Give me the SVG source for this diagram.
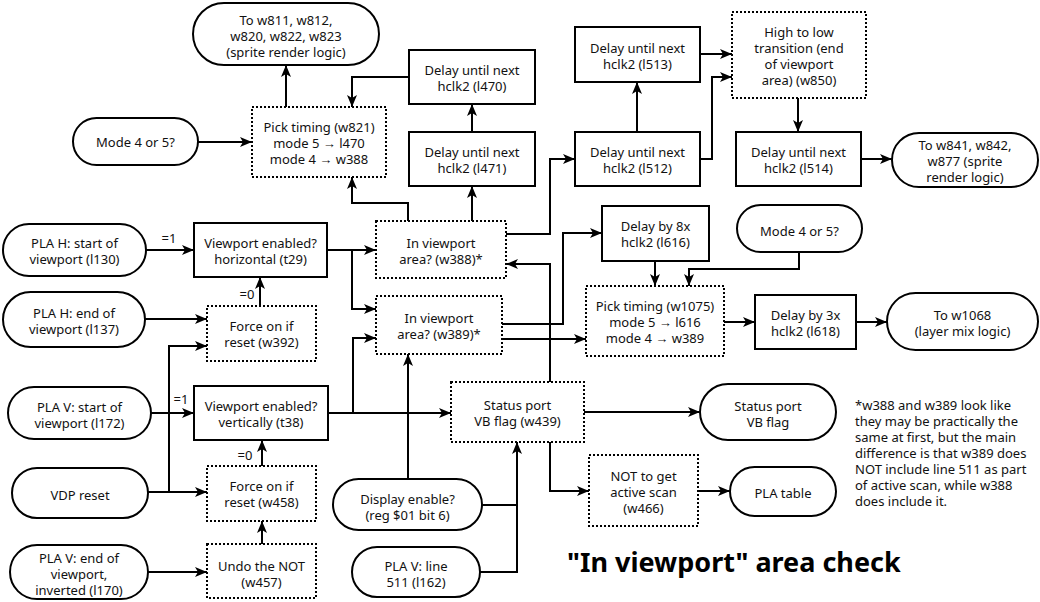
<svg xmlns="http://www.w3.org/2000/svg" width="1040" height="602" viewBox="0 0 1040 602">
<style>
.b{fill:#fff;stroke:#000;stroke-width:2}
.d{fill:#fff;stroke:#000;stroke-width:2;stroke-dasharray:2 2}
.t{font-family:"Noto Sans","Open Sans",sans-serif;font-size:13px;fill:#111;text-anchor:middle}
.fn{font-family:"Noto Sans","Open Sans",sans-serif;font-size:13px;fill:#111}
.lb{font-family:"Noto Sans","Open Sans",sans-serif;font-size:13px;fill:#111;text-anchor:middle}
.ti{font-family:"Noto Sans","Open Sans",sans-serif;font-size:27px;font-weight:bold;fill:#000}
.c{fill:none;stroke:#000;stroke-width:2}
.a{marker-end:url(#ah)}
</style>
<defs>
<marker id="ah" viewBox="0 0 12 10" refX="12" refY="5" markerWidth="12" markerHeight="10" markerUnits="userSpaceOnUse" orient="auto">
<path d="M0,0 L12,5 L0,10 L3,5 z" fill="#000"/>
</marker>
</defs>
<rect width="1040" height="602" fill="#fff"/>

<g id="connectors">
<path class="c a" d="M286,107 V65"/>
<path class="c a" d="M198,142 H252"/>
<path class="c a" d="M409,77 H352 V107"/>
<path class="c a" d="M472,132 V104"/>
<path class="c a" d="M408,221 V203 H352 V177"/>
<path class="c a" d="M472,221 V186"/>
<path class="c a" d="M506,234 H550 V159 H575"/>
<path class="c a" d="M637,132 V82"/>
<path class="c a" d="M700,54 H732"/>
<path class="c a" d="M700,159 H712 V77 H732"/>
<path class="c a" d="M798,98 V132"/>
<path class="c a" d="M861,159 H892"/>
<path class="c a" d="M146,250 H194"/>
<path class="c a" d="M327,250 H376"/>
<path class="c a" d="M352,250 V309 H376"/>
<path class="c a" d="M145,319 H207"/>
<path class="c a" d="M260,306 V277"/>
<path class="c a" d="M148,492 H207"/>
<path class="c a" d="M169,492 V346 H207"/>
<path class="c a" d="M151,413 H194"/>
<path class="c a" d="M262,466 V440"/>
<path class="c a" d="M262,544 V521"/>
<path class="c a" d="M148,572 H207"/>
<path class="c a" d="M328,413 H451"/>
<path class="c a" d="M353,413 V338 H376"/>
<path class="c a" d="M408,479 V354"/>
<path class="c" d="M482,505 H517"/>
<path class="c a" d="M480,572 H517 V442"/>
<path class="c a" d="M584,412 H700"/>
<path class="c a" d="M550,442 V491 H589"/>
<path class="c a" d="M550,382 V264 H506"/>
<path class="c a" d="M698,491 H730"/>
<path class="c a" d="M502,324 H563 V233 H602"/>
<path class="c a" d="M502,339 H586"/>
<path class="c a" d="M655,261 V286"/>
<path class="c a" d="M799,252 V269 H689 V286"/>
<path class="c a" d="M724,322 H755"/>
<path class="c a" d="M856,322 H887"/>
<text class="lb" x="169" y="243">=1</text>
<text class="lb" x="247" y="299">=0</text>
<text class="lb" x="181" y="404">=1</text>
<text class="lb" x="245" y="460">=0</text>
</g>

<g id="n_to_w811"><rect class="b" x="193" y="3" width="186" height="62" rx="31"/>
<text class="t" x="286" y="25">To w811, w812,</text><text class="t" x="286" y="41">w820, w822, w823</text><text class="t" x="286" y="57">(sprite render logic)</text></g>
<g id="n_mode1"><rect class="b" x="73" y="118" width="125" height="47" rx="23.5"/>
<text class="t" x="135.5" y="147">Mode 4 or 5?</text></g>
<g id="n_w821"><rect class="d" x="252" y="107" width="134" height="70"/>
<text class="t" x="319" y="132">Pick timing (w821)</text><text class="t" x="319" y="148">mode 5 → l470</text><text class="t" x="319" y="164">mode 4 → w388</text></g>
<g id="n_l470"><rect class="b" x="409" y="50" width="126" height="54"/>
<text class="t" x="472" y="75">Delay until next</text><text class="t" x="472" y="91">hclk2 (l470)</text></g>
<g id="n_l471"><rect class="b" x="409" y="132" width="126" height="54"/>
<text class="t" x="472" y="157">Delay until next</text><text class="t" x="472" y="173">hclk2 (l471)</text></g>
<g id="n_l513"><rect class="b" x="575" y="27" width="125" height="55"/>
<text class="t" x="637.5" y="53">Delay until next</text><text class="t" x="637.5" y="69">hclk2 (l513)</text></g>
<g id="n_l512"><rect class="b" x="575" y="132" width="125" height="54"/>
<text class="t" x="637.5" y="157">Delay until next</text><text class="t" x="637.5" y="173">hclk2 (l512)</text></g>
<g id="n_w850"><rect class="d" x="732" y="12" width="134" height="86"/>
<text class="t" x="799" y="37">High to low</text><text class="t" x="799" y="53">transition (end</text><text class="t" x="799" y="69">of viewport</text><text class="t" x="799" y="85">area) (w850)</text></g>
<g id="n_l514"><rect class="b" x="736" y="132" width="125" height="54"/>
<text class="t" x="798.5" y="157">Delay until next</text><text class="t" x="798.5" y="173">hclk2 (l514)</text></g>
<g id="n_to_w841"><rect class="b" x="892" y="133" width="146" height="54" rx="27"/>
<text class="t" x="965" y="150">To w841, w842,</text><text class="t" x="965" y="166">w877 (sprite</text><text class="t" x="965" y="182">render logic)</text></g>
<g id="n_plaH_start"><rect class="b" x="3" y="224" width="143" height="52" rx="26"/>
<text class="t" x="74.5" y="248">PLA H: start of</text><text class="t" x="74.5" y="264">viewport (l130)</text></g>
<g id="n_t29"><rect class="b" x="194" y="223" width="133" height="54"/>
<text class="t" x="260.5" y="248">Viewport enabled?</text><text class="t" x="260.5" y="264">horizontal (t29)</text></g>
<g id="n_plaH_end"><rect class="b" x="3" y="292" width="142" height="55" rx="27.5"/>
<text class="t" x="74" y="318">PLA H: end of</text><text class="t" x="74" y="334">viewport (l137)</text></g>
<g id="n_w392"><rect class="d" x="207" y="306" width="109" height="55"/>
<text class="t" x="261.5" y="331">Force on if</text><text class="t" x="261.5" y="347">reset (w392)</text></g>
<g id="n_w388"><rect class="d" x="376" y="221" width="130" height="57"/>
<text class="t" x="441" y="248">In viewport</text><text class="t" x="441" y="264">area? (w388)*</text></g>
<g id="n_w389"><rect class="d" x="376" y="296" width="126" height="58"/>
<text class="t" x="439" y="323">In viewport</text><text class="t" x="439" y="339">area? (w389)*</text></g>
<g id="n_l616"><rect class="b" x="602" y="206" width="107" height="55"/>
<text class="t" x="655.5" y="231">Delay by 8x</text><text class="t" x="655.5" y="247">hclk2 (l616)</text></g>
<g id="n_mode2"><rect class="b" x="737" y="205" width="125" height="47" rx="23.5"/>
<text class="t" x="799.5" y="236">Mode 4 or 5?</text></g>
<g id="n_w1075"><rect class="d" x="586" y="286" width="138" height="70"/>
<text class="t" x="655" y="311">Pick timing (w1075)</text><text class="t" x="655" y="327">mode 5 → l616</text><text class="t" x="655" y="343">mode 4 → w389</text></g>
<g id="n_l618"><rect class="b" x="755" y="295" width="101" height="54"/>
<text class="t" x="805.5" y="320">Delay by 3x</text><text class="t" x="805.5" y="336">hclk2 (l618)</text></g>
<g id="n_to_w1068"><rect class="b" x="887" y="293" width="151" height="57" rx="28.5"/>
<text class="t" x="962.5" y="320">To w1068</text><text class="t" x="962.5" y="336">(layer mix logic)</text></g>
<g id="n_plaV_start"><rect class="b" x="8" y="387" width="143" height="52" rx="26"/>
<text class="t" x="79.5" y="412">PLA V: start of</text><text class="t" x="79.5" y="428">viewport (l172)</text></g>
<g id="n_t38"><rect class="b" x="194" y="386" width="134" height="54"/>
<text class="t" x="261" y="411">Viewport enabled?</text><text class="t" x="261" y="427">vertically (t38)</text></g>
<g id="n_vdp_reset"><rect class="b" x="12" y="468" width="136" height="50" rx="25"/>
<text class="t" x="80" y="500">VDP reset</text></g>
<g id="n_w458"><rect class="d" x="207" y="466" width="109" height="55"/>
<text class="t" x="261.5" y="491">Force on if</text><text class="t" x="261.5" y="507">reset (w458)</text></g>
<g id="n_plaV_end"><rect class="b" x="10" y="545" width="138" height="54" rx="27"/>
<text class="t" x="79" y="563">PLA V: end of</text><text class="t" x="79" y="579">viewport,</text><text class="t" x="79" y="595">inverted (l170)</text></g>
<g id="n_w457"><rect class="d" x="207" y="544" width="109" height="54"/>
<text class="t" x="261.5" y="571">Undo the NOT</text><text class="t" x="261.5" y="587">(w457)</text></g>
<g id="n_w439"><rect class="d" x="451" y="382" width="133" height="60"/>
<text class="t" x="517.5" y="410">Status port</text><text class="t" x="517.5" y="426">VB flag (w439)</text></g>
<g id="n_display"><rect class="b" x="333" y="479" width="149" height="51" rx="25.5"/>
<text class="t" x="407.5" y="504">Display enable?</text><text class="t" x="407.5" y="520">(reg $01 bit 6)</text></g>
<g id="n_pla511"><rect class="b" x="352" y="547" width="128" height="50" rx="25"/>
<text class="t" x="416" y="571">PLA V: line</text><text class="t" x="416" y="587">511 (l162)</text></g>
<g id="n_vbflag"><rect class="b" x="700" y="384" width="136" height="56" rx="28"/>
<text class="t" x="768" y="411">Status port</text><text class="t" x="768" y="427">VB flag</text></g>
<g id="n_w466"><rect class="d" x="589" y="455" width="109" height="71"/>
<text class="t" x="643.5" y="481">NOT to get</text><text class="t" x="643.5" y="497">active scan</text><text class="t" x="643.5" y="513">(w466)</text></g>
<g id="n_pla_table"><rect class="b" x="730" y="467" width="106" height="49" rx="24.5"/>
<text class="t" x="783" y="498">PLA table</text></g>

<g id="footnote">
<text class="fn" x="855" y="410">*w388 and w389 look like</text>
<text class="fn" x="855" y="426">they may be practically the</text>
<text class="fn" x="855" y="442">same at first, but the main</text>
<text class="fn" x="855" y="458">difference is that w389 does</text>
<text class="fn" x="855" y="474">NOT include line 511 as part</text>
<text class="fn" x="855" y="490">of active scan, while w388</text>
<text class="fn" x="855" y="506">does include it.</text>
</g>
<text id="title" class="ti" x="567" y="572">"In viewport" area check</text>
</svg>
